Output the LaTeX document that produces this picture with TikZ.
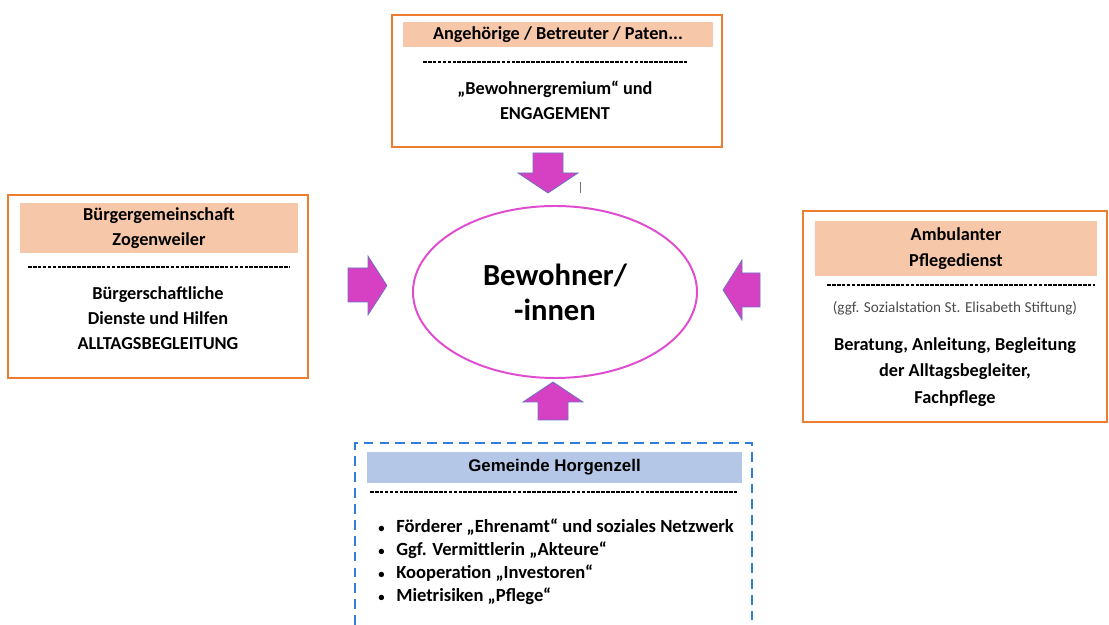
\documentclass[tikz,border=0pt]{standalone}
\usepackage{fontspec}
\setmainfont{Carlito}
\newfontfamily\arialfont{Liberation Sans}
\usetikzlibrary{positioning,shapes}
\definecolor{cOrange}{HTML}{ED7D31}
\definecolor{cPeach}{HTML}{F6C7A8}
\definecolor{cBlueHead}{HTML}{B4C7E7}
\definecolor{cBlueLine}{HTML}{2F7FD6}
\definecolor{cPink}{HTML}{D640C2}
\definecolor{cPinkLine}{HTML}{E04CD0}
\definecolor{cArrowLine}{HTML}{6B72C9}
\tikzstyle{nBox}=[rectangle,draw=cOrange,line width=1.4pt,inner sep=0pt]
\tikzstyle{nHead}=[rectangle,fill=cPeach,inner sep=0pt,font=\bfseries\fontsize{13}{18}\selectfont,align=center]
\tikzstyle{nText}=[inner sep=0pt,font=\bfseries\fontsize{13}{18}\selectfont,align=center]
\tikzstyle{eDash}=[line width=1.1pt,dash pattern=on 2.6pt off 0.9pt]
\tikzstyle{eBlue}=[draw=cBlueLine,line width=1.1pt,dash pattern=on 7pt off 4.3pt]
\tikzstyle{aPink}=[fill=cPink,draw=cArrowLine,line width=0.5pt]

\begin{document}
\begin{tikzpicture}[scale=1]%[x=1 cm, y=1 cm]
                \useasboundingbox (0,0) rectangle (27.725,-15.625);

                % top: Angehoerige
                \draw (13.925,-2.025) node[nBox,minimum width=8.25cm,minimum height=3.3cm] (angBox) {};
                \draw (13.95,-0.8625) node[nHead,minimum width=7.75cm,minimum height=0.625cm] (angHead) {Angehörige / Betreuter / Paten...};
                \draw[eDash] (10.575,-1.55) -- (17.2,-1.55);
                \draw (13.875,-2.5) node[nText] (angText) {„Bewohnergremium“ und\\ENGAGEMENT};

                % left: Buergergemeinschaft
                \draw (3.95,-7.1625) node[nBox,minimum width=7.5cm,minimum height=4.575cm] (bgBox) {};
                \draw (3.975,-5.7) node[nHead,minimum width=6.95cm,minimum height=1.25cm] (bgHead) {Bürgergemeinschaft\\Zogenweiler};
                \draw[eDash] (0.7,-6.675) -- (7.25,-6.675);
                \draw (3.95,-7.95) node[nText] (bgText) {Bürgerschaftliche\\Dienste und Hilfen\\ALLTAGSBEGLEITUNG};

                % right: Pflegedienst
                \draw (23.875,-7.9125) node[nBox,minimum width=7.6cm,minimum height=5.275cm] (apBox) {};
                \draw (23.9,-6.2125) node[nHead,minimum width=7.05cm,minimum height=1.375cm] (apHead) {Ambulanter\\Pflegedienst};
                \draw[eDash] (20.675,-7.125) -- (27.375,-7.125);
                \draw (23.875,-7.7) node[inner sep=0pt,text=black!70,font=\fontsize{10.8}{12}\selectfont] (apSub) {(ggf. Sozialstation St. Elisabeth Stiftung)};
                \draw (23.875,-9.3) node[nText,font=\bfseries\fontsize{13}{18.6}\selectfont] (apText) {Beratung, Anleitung, Begleitung\\der Alltagsbegleiter,\\Fachpflege};

                % bottom: Gemeinde
                \draw[eBlue] (8.875,-15.625) -- (8.875,-11.075) -- (18.8,-11.075) -- (18.8,-15.625);
                \draw (13.8625,-11.6875) node[rectangle,fill=cBlueHead,inner sep=0pt,minimum width=9.375cm,minimum height=0.775cm,font=\arialfont\bfseries\fontsize{12}{13}\selectfont] (ghHead) {Gemeinde Horgenzell};
                \draw[eDash] (9.25,-12.3) -- (18.425,-12.3);
                \draw (9.45,-14.04) node[nText,anchor=west,align=left,font=\bfseries\fontsize{13.2}{16.4}\selectfont] (ghText)
                    {\makebox[0.45cm][l]{\fontsize{9}{9}\selectfont\textbullet}Förderer „Ehrenamt“ und soziales Netzwerk\\
                     \makebox[0.45cm][l]{\fontsize{9}{9}\selectfont\textbullet}Ggf. Vermittlerin „Akteure“\\
                     \makebox[0.45cm][l]{\fontsize{9}{9}\selectfont\textbullet}Kooperation „Investoren“\\
                     \makebox[0.45cm][l]{\fontsize{9}{9}\selectfont\textbullet}Mietrisiken „Pflege“};

                % centre
                \draw (13.875,-7.3) node[ellipse,draw=cPinkLine,line width=1.4pt,minimum width=7.1cm,minimum height=4.3cm,inner sep=0pt,align=center,font=\bfseries\fontsize{21.8}{25}\selectfont] (bew) {Bewohner/\\-innen};

                % block arrows
                \draw[aPink] (13.325,-3.825) -- (14.075,-3.825) -- (14.075,-4.325) -- (14.45,-4.325) -- (13.7,-4.825) -- (12.95,-4.325) -- (13.325,-4.325) -- cycle;
                \draw[aPink] (8.7,-6.7) -- (9.2,-6.7) -- (9.2,-6.4) -- (9.675,-7.14) -- (9.2,-7.875) -- (9.2,-7.55) -- (8.7,-7.55) -- cycle;
                \draw[aPink] (19.0,-6.825) -- (18.55,-6.825) -- (18.55,-6.5) -- (18.075,-7.25) -- (18.55,-8.0) -- (18.55,-7.675) -- (19.0,-7.675) -- cycle;
                \draw[aPink] (13.45,-10.5) -- (13.45,-10.05) -- (13.075,-10.05) -- (13.825,-9.55) -- (14.575,-10.05) -- (14.2,-10.05) -- (14.2,-10.5) -- cycle;
                \draw[black!55,line width=0.6pt] (14.5,-4.55) -- (14.5,-4.825);

\end{tikzpicture}
\end{document}
